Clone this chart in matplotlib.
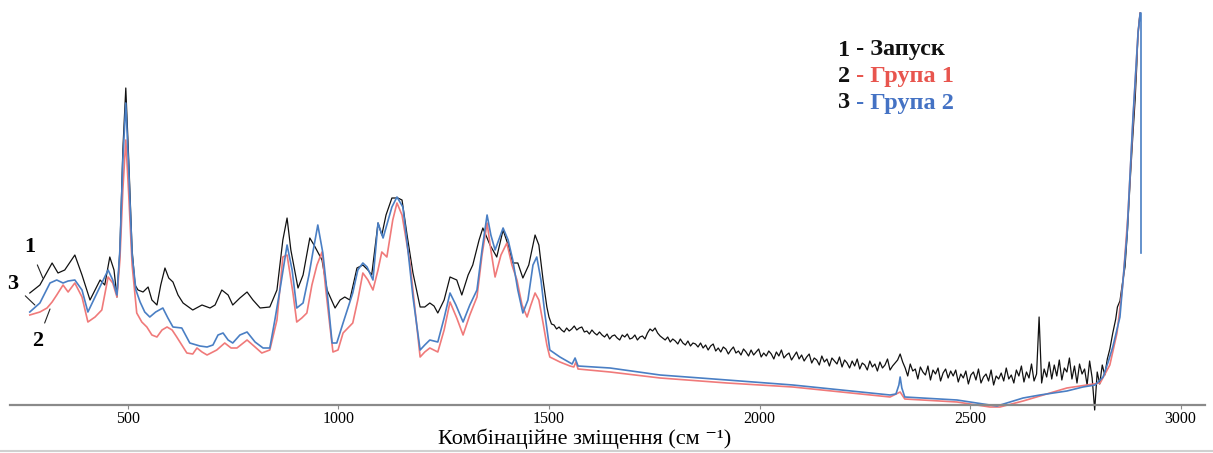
#!/usr/bin/env python3
import numpy as np
import matplotlib
matplotlib.use('Agg')
import matplotlib.pyplot as plt
from matplotlib.lines import Line2D

plt.rcParams['font.family'] = ['Liberation Serif', 'DejaVu Serif']

## ================================================ ##
## 1 - Запуск (black): fingerprint part
wn_black_fp  = [267, 291, 320, 334, 350, 374, 391, 410, 434, 445, 457, 467, 474, 481, 488, 495,
                502, 510, 517, 524, 536, 548, 557, 569, 578, 588, 597, 607, 619, 631, 654, 676,
                695, 707, 723, 738, 749, 766, 783, 797, 814, 837, 854, 868, 878, 887, 904, 916,
                932, 942, 951, 961, 973, 992, 1004, 1015, 1027, 1044, 1058, 1070, 1079, 1094, 1103, 1113,
                1127, 1141, 1151, 1163, 1177, 1194, 1205, 1217, 1227, 1236, 1251, 1265, 1281, 1293, 1308, 1319,
                1334, 1343, 1360, 1376, 1391, 1403, 1414, 1426, 1438, 1452, 1467, 1476, 1486, 1495]
int_black_fp = [112, 120, 142, 132, 135, 150, 130, 105, 125, 120, 148, 135, 108, 155, 255, 317,
                245, 155, 120, 115, 113, 118, 105, 100, 120, 137, 127, 123, 110, 102, 95, 100,
                97, 100, 115, 110, 100, 107, 113, 105, 97, 98, 115, 165, 187, 155, 117, 130,
                167, 160, 153, 145, 115, 97, 105, 108, 105, 137, 140, 135, 130, 182, 170, 190,
                207, 207, 205, 170, 132, 98, 98, 102, 99, 92, 105, 128, 125, 110, 130, 140,
                165, 177, 160, 148, 175, 160, 142, 142, 127, 140, 170, 160, 125, 98]
## noisy part, step 6 cm-1 from 1500
int_black_noise = [
    88, 81, 80, 76, 78, 75, 73, 77, 74, 76, 79, 75, 77, 78, 73, 74, 71, 75, 72, 70,
    73, 70, 68, 71, 66, 69, 70, 67, 65, 70, 68, 71, 66, 67, 70, 65, 68, 69, 66, 72,
    76, 74, 77, 72, 69, 67, 65, 68, 63, 66, 64, 61, 66, 62, 60, 64, 59, 62, 61, 58,
    62, 57, 60, 55, 59, 61, 54, 57, 53, 58, 56, 51, 55, 58, 52, 54, 50, 56, 53, 49,
    55, 50, 53, 56, 48, 52, 49, 54, 51, 46, 53, 49, 55, 47, 50, 52, 45, 49, 53, 46,
    50, 44, 48, 51, 42, 47, 45, 40, 49, 43, 46, 39, 47, 44, 41, 48, 38, 45, 42, 37,
    44, 39, 46, 36, 42, 40, 35, 44, 38, 41, 34, 43, 37, 40, 46, 35, 39, 42, 45, 51,
    43, 37, 29, 41, 34, 36, 26, 38, 33, 30, 39, 25, 35, 31, 37, 24, 32, 36, 27, 34,
    29, 35, 23, 31, 27, 34, 21, 30, 33, 25, 36, 22, 28, 31, 24, 35, 20, 29, 26, 32,
    24, 37, 26, 30, 22, 35, 29, 39, 23, 33, 27, 41, 24, 31, 88, 22, 36, 28, 43, 26,
    40, 29, 45, 25, 37, 33, 47, 26, 39, 22, 41, 31, 36, 20, 44, 27, -5, 33, 21, 40,
    30, 46, 56]
wn_black_rise  = [2839, 2846, 2850, 2856, 2862, 2868, 2874, 2880, 2886, 2892, 2896, 2899, 2902, 2904]
int_black_rise = [72, 86, 98, 104, 122, 138, 175, 222, 265, 305, 340, 372, 385, 392]

## 2 - Група 1 (red)
wn_red  = [267, 291, 308, 320, 331, 346, 358, 374, 391, 405, 422, 438, 453, 464, 474, 481,
           488, 495, 502, 510, 521, 533, 545, 557, 569, 581, 593, 605, 616, 628, 640, 654,
           664, 676, 688, 711, 730, 745, 759, 783, 802, 818, 837, 854, 868, 878, 892, 901,
           913, 925, 937, 949, 961, 970, 980, 987, 999, 1011, 1034, 1046, 1058, 1070, 1082, 1094,
           1103, 1115, 1129, 1139, 1151, 1170, 1182, 1194, 1205, 1217, 1236, 1251, 1265, 1281, 1296, 1312,
           1329, 1341, 1353, 1362, 1372, 1386, 1400, 1412, 1424, 1436, 1448, 1457, 1467, 1476, 1486, 1495,
           1502, 1526, 1550, 1559, 1564, 1569, 1645, 1764, 1923, 2079, 2310, 2334, 2345, 2469, 2547, 2571,
           2626, 2730, 2809, 2832, 2849, 2863, 2875, 2887, 2899, 2904]
int_red = [90, 93, 97, 103, 110, 120, 113, 122, 108, 83, 88, 95, 128, 122, 108, 145,
           215, 265, 210, 140, 92, 83, 78, 70, 68, 75, 78, 75, 68, 60, 52, 51,
           57, 53, 50, 55, 62, 57, 57, 65, 58, 52, 55, 85, 148, 150, 112, 83,
           87, 92, 120, 140, 153, 115, 78, 53, 55, 72, 82, 105, 132, 125, 115, 135,
           153, 148, 185, 202, 190, 142, 95, 48, 53, 57, 53, 75, 103, 87, 70, 90,
           108, 150, 182, 155, 128, 150, 162, 140, 125, 100, 88, 100, 112, 105, 82, 60,
           48, 43, 39, 38, 43, 36, 33, 27, 22, 18, 8, 13, 6, 3, -2, -2,
           4, 17, 22, 40, 72, 122, 190, 285, 372, 392]

## 3 - Група 2 (blue)
wn_blue  = [267, 291, 315, 331, 346, 358, 374, 391, 405, 422, 438, 453, 464, 474, 481, 488,
            495, 502, 510, 519, 529, 540, 552, 566, 583, 595, 607, 628, 647, 671, 688, 702,
            714, 726, 738, 749, 766, 783, 802, 821, 837, 849, 861, 878, 890, 901, 916, 930,
            939, 951, 963, 975, 985, 996, 1011, 1034, 1046, 1058, 1068, 1082, 1094, 1106, 1127, 1139,
            1153, 1165, 1177, 1194, 1205, 1217, 1236, 1251, 1265, 1279, 1296, 1312, 1329, 1341, 1353, 1362,
            1372, 1391, 1403, 1414, 1426, 1438, 1450, 1462, 1471, 1481, 1490, 1502, 1526, 1555, 1562, 1569,
            1645, 1764, 1923, 2079, 2310, 2324, 2331, 2334, 2338, 2345, 2469, 2547, 2564, 2595, 2626, 2666,
            2730, 2768, 2797, 2816, 2828, 2839, 2856, 2873, 2887, 2899, 2904, 2906, 2906]
int_blue = [93, 102, 122, 125, 122, 124, 125, 115, 93, 108, 122, 135, 125, 110, 155, 245,
            302, 235, 150, 115, 103, 93, 88, 93, 97, 87, 78, 77, 62, 59, 58, 60,
            70, 72, 65, 62, 70, 73, 63, 57, 57, 85, 115, 160, 135, 97, 102, 130,
            152, 180, 152, 105, 62, 62, 82, 112, 135, 142, 138, 125, 182, 167, 198, 208,
            198, 155, 108, 55, 60, 65, 63, 87, 112, 100, 83, 100, 115, 155, 190, 170,
            155, 177, 165, 145, 115, 92, 105, 140, 148, 125, 92, 55, 48, 41, 47, 39,
            37, 30, 25, 20, 10, 11, 20, 28, 17, 8, 5, 0, -1, 3, 7, 10,
            14, 18, 20, 28, 43, 58, 88, 172, 288, 372, 392, 392, 152]

##
wn_black_noise = np.arange(1500, 2833, 6)
wn_black  = np.concatenate([wn_black_fp, wn_black_noise, wn_black_rise])
int_black = np.concatenate([int_black_fp, int_black_noise, int_black_rise])

fig = plt.figure(figsize=(12.13, 4.53), dpi=100)
ax = fig.add_axes([10/1213, 40/453, 1195/1213, 408/453])

ax.plot(wn_black, int_black, color='#111111', lw=0.9)
ax.plot(wn_red, int_red, color='#f07a7a', lw=1.2)
ax.plot(wn_blue, int_blue, color='#4a7fc4', lw=1.2)

ax.set_xlim(220, 3058)
ax.set_ylim(-8, 400)
for s in ['top', 'left', 'right']:
    ax.spines[s].set_visible(False)
ax.spines['bottom'].set_position(('data', 0))
ax.spines['bottom'].set_color('#8a8a8a')
ax.spines['bottom'].set_linewidth(1.6)
ax.set_yticks([])
ax.set_xticks([500, 1000, 1500, 2000, 2500, 3000])
ax.tick_params(axis='x', length=3, color='#8a8a8a', labelsize=11.5, pad=1.5)
fig.text(585/1213, 1 - 439/453, 'Комбінаційне зміщення (см ⁻¹)',
         fontsize=16, ha='center', va='center')

## curve numbers on the left
lab = dict(fontsize=16, fontweight='bold', ha='center', va='center',
           arrowprops=dict(arrowstyle='-', lw=0.8, color='#222222', shrinkA=4, shrinkB=0))
ax.annotate('1', xy=(298, 127), xytext=(267, 158), **lab)
ax.annotate('3', xy=(279, 100), xytext=(227, 121), **lab)
ax.annotate('2', xy=(315, 96), xytext=(286, 64), **lab)

## legend text
leg = [('1', ' - Запуск', '#111111'),
       ('2', ' - Група 1', '#e8554e'),
       ('3', ' - Група 2', '#4472c4')]
for i, (num, name, col) in enumerate(leg):
    t = fig.text(838/1213, 1 - (50 + 26.5*i)/453, num, fontsize=17.5, fontweight='bold',
                 color='#111111', va='center')
    ax.annotate(name, xy=(1, 0), xycoords=t, va='bottom', fontsize=17.5,
                fontweight='bold', color=col)

fig.add_artist(Line2D([0, 1], [2/453, 2/453], color='#d0d0d0', lw=1.5))

fig.savefig('out.png', dpi=100)
